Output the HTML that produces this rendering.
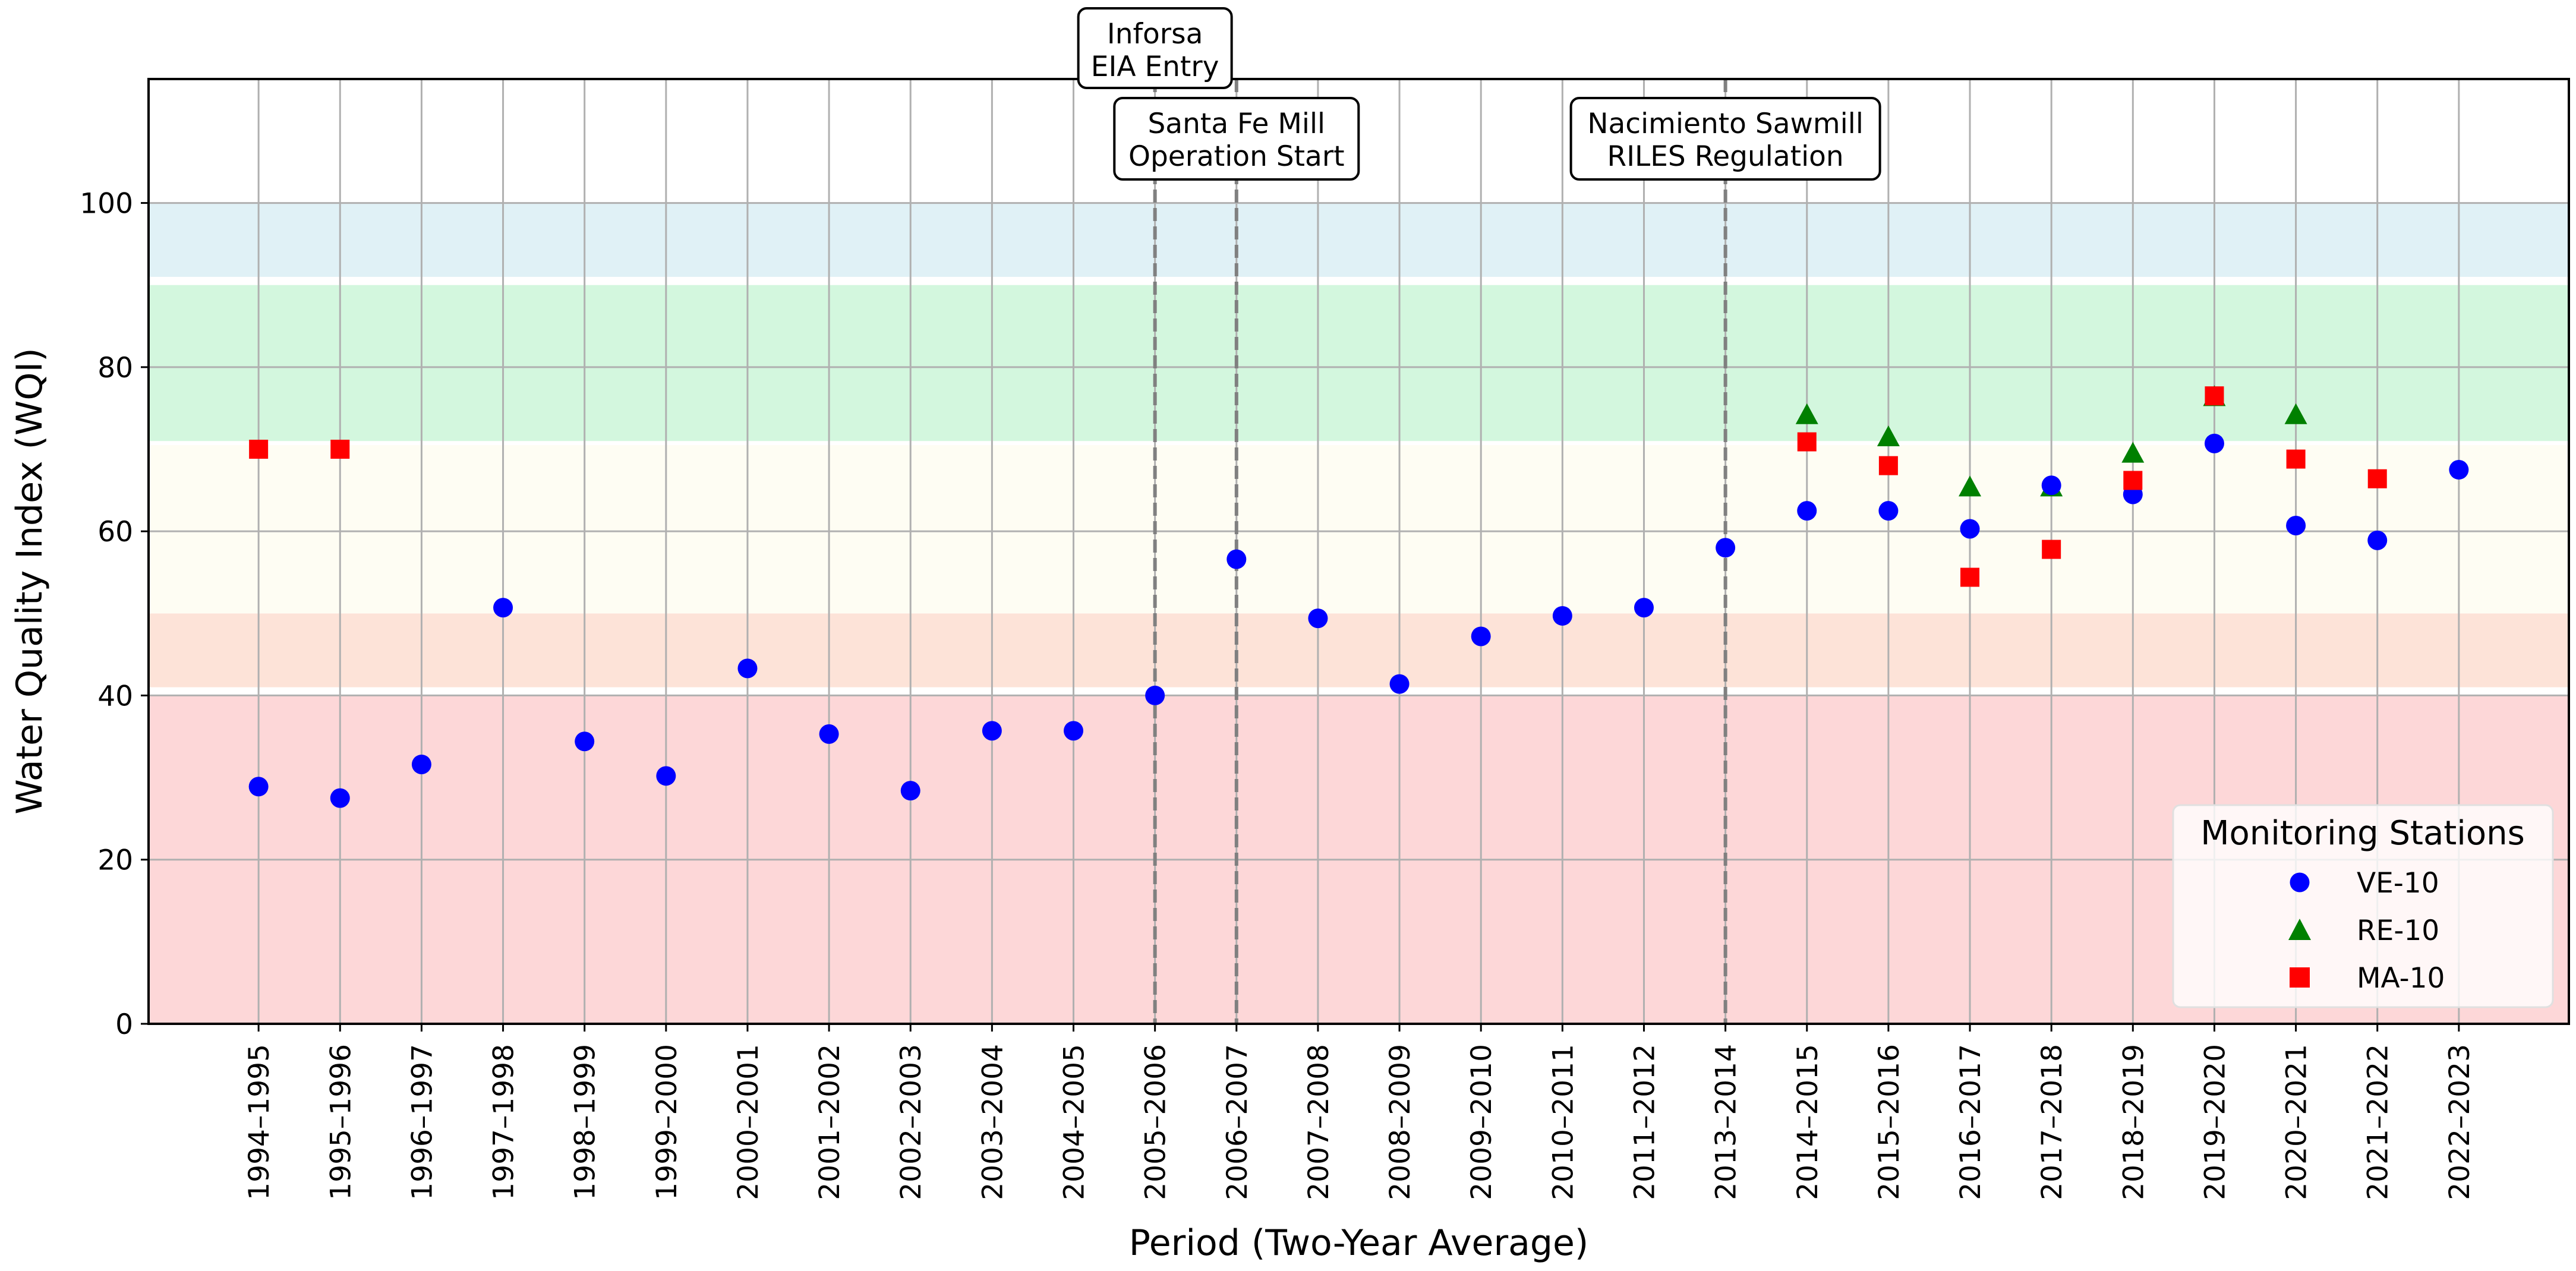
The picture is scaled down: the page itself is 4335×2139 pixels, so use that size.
<!DOCTYPE html>
<html><head><meta charset="utf-8">
<style>
html,body{margin:0;padding:0;background:#fff;}
svg{display:block;font-family:"DejaVu Sans","Liberation Sans",sans-serif;}
</style></head>
<body>
<svg id="chart" width="4335" height="2139" viewBox="0 0 4335 2139" xmlns="http://www.w3.org/2000/svg">
<rect x="0" y="0" width="4335" height="2139" fill="#fff"/>
<g id="bands"></g>
<g id="grid"></g>
<g id="vlines"></g>
<g id="marks"></g>
<g id="axes"></g>
<g id="annos"></g>
<g id="legend"></g>
</svg>
<script>
const categories = ["1994–1995","1995–1996","1996–1997","1997–1998","1998–1999","1999–2000","2000–2001","2001–2002","2002–2003","2003–2004","2004–2005","2005–2006","2006–2007","2007–2008","2008–2009","2009–2010","2010–2011","2011–2012","2013–2014","2014–2015","2015–2016","2016–2017","2017–2018","2018–2019","2019–2020","2020–2021","2021–2022","2022–2023"];
const ve10 = [28.9,27.5,31.6,50.7,34.4,30.2,43.3,35.3,28.4,35.7,35.7,40.0,56.6,49.4,41.4,47.2,49.7,50.7,58.0,62.5,62.5,60.3,65.6,64.5,70.7,60.7,58.9,67.5];
const re10 = [null,null,null,null,null,null,null,null,null,null,null,null,null,null,null,null,null,null,null,74.0,71.3,65.2,65.2,69.3,76.2,74.0,null,null];
const ma10 = [70.0,70.0,null,null,null,null,null,null,null,null,null,null,null,null,null,null,null,null,null,70.9,68.0,54.4,57.8,66.2,76.5,68.8,66.4,null];
const yTicks = [0,20,40,60,80,100];
const bandLows = [0,41,50,71,91];
const bandHighs = [40,50,70.5,90,100];
const bandColors = ["#fdd7d8","#fde3d8","#fefdf3","#d3f7de","#e0f1f6"];
const eventIdx = [11,12,18];
const eventLabels = [["Inforsa","EIA Entry"],["Santa Fe Mill","Operation Start"],["Nacimiento Sawmill","RILES Regulation"]];
const eventLevels = [0,1,1];

const NS="http://www.w3.org/2000/svg";
const L=250,R=4323,T=133,B=1723;
const xMin=-1.35,xMax=28.35,yMin=0,yMax=115.1;
function xs(i){return L+(i-xMin)/(xMax-xMin)*(R-L);}
function ys(v){return B-(v-yMin)/(yMax-yMin)*(B-T);}
function mk(tag,attrs,parent,text){const e=document.createElementNS(NS,tag);for(const k in attrs)e.setAttribute(k,attrs[k]);if(text!==undefined)e.textContent=text;parent.appendChild(e);return e;}

const gB=document.getElementById('bands');
bandLows.forEach((lo,i)=>{
  const r=mk('rect',{x:L,y:ys(bandHighs[i]),width:R-L,height:ys(lo)-ys(bandHighs[i]),fill:bandColors[i]},gB);
  
  
});

const gG=document.getElementById('grid');
categories.forEach((c,i)=>{
  const l=mk('line',{x1:xs(i),x2:xs(i),y1:T,y2:B,stroke:"#b0b0b0","stroke-width":3},gG);
  
  
});
yTicks.forEach(v=>{
  const l=mk('line',{x1:L,x2:R,y1:ys(v),y2:ys(v),stroke:"#b0b0b0","stroke-width":3},gG);
  
  
});

const gV=document.getElementById('vlines');
eventIdx.forEach(i=>{
  const l=mk('line',{x1:xs(i),x2:xs(i),y1:T,y2:B,stroke:"#808080","stroke-width":6,"stroke-dasharray":"22 9"},gV);
  
  
});

const gM=document.getElementById('marks');
const rad=16.5;
re10.forEach((v,i)=>{ if(v===null)return;
  const cx=xs(i),cy=ys(v);
  const p=mk('polygon',{points:`${cx},${cy-22} ${cx-19},${cy+13} ${cx+19},${cy+13}`,fill:"#008000"},gM);
  
  
});
ve10.forEach((v,i)=>{ if(v===null)return;
  const c=mk('circle',{cx:xs(i),cy:ys(v),r:rad,fill:"#0000ff"},gM);
  
  
});
ma10.forEach((v,i)=>{ if(v===null)return;
  const s=mk('rect',{x:xs(i)-16,y:ys(v)-16,width:32,height:32,fill:"#ff0000"},gM);
  
  
});

const gA=document.getElementById('axes');
const frame=mk('rect',{x:L,y:T,width:R-L,height:B-T,fill:"none",stroke:"#000","stroke-width":4},gA);


yTicks.forEach(v=>{
  const t=mk('line',{x1:L-13,x2:L,y1:ys(v),y2:ys(v),stroke:"#000","stroke-width":3},gA);
  
  
  const lb=mk('text',{x:L-26,y:ys(v)+17,"text-anchor":"end","font-size":47,fill:"#000"},gA,String(v));
  
  
});
categories.forEach((c,i)=>{
  const t=mk('line',{x1:xs(i),x2:xs(i),y1:B,y2:B+13,stroke:"#000","stroke-width":3},gA);
  
  
  const lb=mk('text',{x:0,y:0,"text-anchor":"end","font-size":47,fill:"#000",transform:`translate(${xs(i)+17},${B+34}) rotate(-90)`},gA,c);
  
  
});
const xt=mk('text',{x:(L+R)/2,y:2112,"text-anchor":"middle","font-size":60,fill:"#000"},gA,"Period (Two-Year Average)");


const yt=mk('text',{x:0,y:0,"text-anchor":"middle","font-size":60,fill:"#000",transform:`translate(70,${(T+B)/2+50}) rotate(-90)`},gA,"Water Quality Index (WQI)");



const gN=document.getElementById('annos');
const boxW=[258,411,520];
eventIdx.forEach((idx,k)=>{
  const cx=xs(idx);
  const top=eventLevels[k]===0?14:165;
  const h=eventLevels[k]===0?134:137;
  const g=mk('g',{},gN);
  
  
  mk('rect',{x:cx-boxW[k]/2,y:top,width:boxW[k],height:h,rx:14,fill:"#fff",stroke:"#000","stroke-width":4},g);
  eventLabels[k].forEach((s,j)=>{
    mk('text',{x:cx,y:top+59+j*55,"text-anchor":"middle","font-size":47,fill:"#000"},g,s);
  });
});

const gL=document.getElementById('legend');
const lg=mk('g',{},gL);


mk('rect',{x:3657,y:1355,width:639,height:340,rx:12,fill:"#fff","fill-opacity":0.8,stroke:"#e0e0e0","stroke-width":3},lg);
mk('text',{x:3976,y:1421,"text-anchor":"middle","font-size":56,fill:"#000"},lg,"Monitoring Stations");
const e1=mk('g',{},lg);


mk('circle',{cx:3870,cy:1485,r:rad,fill:"#0000ff"},e1);
mk('text',{x:3966,y:1502,"font-size":47,fill:"#000"},e1,"VE-10");
const e2=mk('g',{},lg);


mk('polygon',{points:"3870,1546 3851,1582 3889,1582",fill:"#008000"},e2);
mk('text',{x:3966,y:1582,"font-size":47,fill:"#000"},e2,"RE-10");
const e3=mk('g',{},lg);


mk('rect',{x:3853,y:1628,width:34,height:34,fill:"#ff0000"},e3);
mk('text',{x:3966,y:1662,"font-size":47,fill:"#000"},e3,"MA-10");
</script>
</body></html>
